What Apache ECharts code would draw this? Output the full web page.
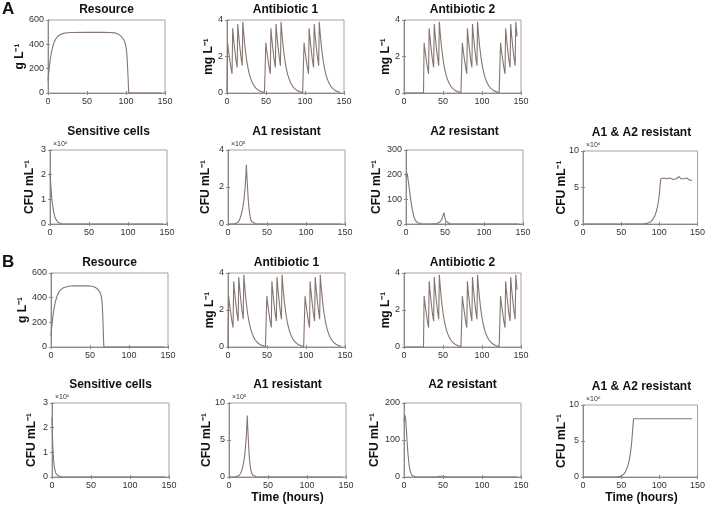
<!DOCTYPE html>
<html><head><meta charset="utf-8">
<script src="https://cdn.jsdelivr.net/npm/echarts@6/dist/echarts.min.js"></script>
<style>html,body{margin:0;padding:0;background:#fff}#c{width:708px;height:507px}</style>
</head><body><div id="c"></div>
<script>
// ---------- DATA (time in hours, values in axis units) ----------
const xTicks = [0, 50, 100, 150];

const resourceA = [[0,100],[1,170],[2,230],[3,280],[4,320],[6,380],[8,420],[10,445],[13,468],[16,481],[20,490],[25,495],[30,497],[50,498],[70,498],[80,497],[85,494],[88,489],[91,480],[94,465],[97,440],[99,410],[100.5,360],[101.5,280],[102.5,150],[103.2,40],[103.5,0],[145,0]];
const resourceB = [[0,90],[1,165],[2,225],[3,275],[4,315],[6,375],[8,418],[10,444],[13,467],[16,480],[20,489],[25,494],[30,496],[40,497],[48,496],[52,493],[55,488],[58,478],[61,460],[63,440],[64.5,410],[65.5,360],[66.3,270],[67,140],[67.5,30],[67.8,0],[145,0]];

const antibiotic1 = [[0,0],[0.8,2.75],[2,2.3],[3.5,1.85],[5,1.4],[6.5,1.05],[7.3,3.55],[8.5,2.95],[10,2.35],[11.5,1.8],[13,1.4],[13.8,3.78],[15,3.15],[16.5,2.5],[18,1.95],[19.5,1.5],[20.3,3.9],[21.5,3.25],[23,2.55],[25,1.85],[27,1.35],[29,0.98],[31,0.72],[33,0.52],[35,0.38],[37,0.27],[39,0.19],[41,0.13],[43,0.09],[45,0.06],[48,0.03],
  [49,0.02],[49.8,2.75],[51,2.3],[52.5,1.85],[54,1.4],[55.5,1.05],[56.3,3.55],[57.5,2.95],[59,2.35],[60.5,1.8],[62,1.4],[62.8,3.78],[64,3.15],[65.5,2.5],[67,1.95],[68.5,1.5],[69.3,3.9],[70.5,3.25],[72,2.55],[74,1.85],[76,1.35],[78,0.98],[80,0.72],[82,0.52],[84,0.38],[86,0.27],[88,0.19],[90,0.13],[92,0.09],[94,0.06],[97,0.03],
  [98,0.02],[98.8,2.75],[100,2.3],[101.5,1.85],[103,1.4],[104.5,1.05],[105.3,3.55],[106.5,2.95],[108,2.35],[109.5,1.8],[111,1.4],[111.8,3.78],[113,3.15],[114.5,2.5],[116,1.95],[117.5,1.5],[118.3,3.9],[119.5,3.25],[121,2.55],[123,1.85],[125,1.35],[127,0.98],[129,0.72],[131,0.52],[133,0.38],[135,0.27],[137,0.19],[139,0.13],[141,0.09],[143,0.06],[145,0.04]];

const antibiotic2 = [[0,0],[25,0],[25.8,2.75],[27,2.3],[28.5,1.85],[30,1.4],[31.5,1.05],[32.3,3.55],[33.5,2.95],[35,2.35],[36.5,1.8],[38,1.4],[38.8,3.78],[40,3.15],[41.5,2.5],[43,1.95],[44.5,1.5],[45.3,3.9],[46.5,3.25],[48,2.55],[50,1.85],[52,1.35],[54,0.98],[56,0.72],[58,0.52],[60,0.38],[62,0.27],[64,0.19],[66,0.13],[68,0.09],[70,0.06],[73,0.03],
  [74,0.02],[74.8,2.75],[76,2.3],[77.5,1.85],[79,1.4],[80.5,1.05],[81.3,3.55],[82.5,2.95],[84,2.35],[85.5,1.8],[87,1.4],[87.8,3.78],[89,3.15],[90.5,2.5],[92,1.95],[93.5,1.5],[94.3,3.9],[95.5,3.25],[97,2.55],[99,1.85],[101,1.35],[103,0.98],[105,0.72],[107,0.52],[109,0.38],[111,0.27],[113,0.19],[115,0.13],[117,0.09],[119,0.06],[122,0.03],
  [123,0.02],[123.8,2.75],[125,2.3],[126.5,1.85],[128,1.4],[129.5,1.05],[130.3,3.55],[131.5,2.95],[133,2.35],[134.5,1.8],[136,1.4],[136.8,3.78],[138,3.15],[139.5,2.5],[141,1.95],[142.5,1.5],[143.3,3.9],[144.3,3.4],[145,3.1]];

const sensitiveA = [[0,2.1],[1,1.6],[2,1.15],[3,0.85],[4,0.62],[5,0.45],[6,0.32],[7,0.22],[8,0.15],[10,0.07],[12,0.03],[15,0.01],[20,0],[145,0]];
const sensitiveB = [[0,2.4],[0.5,1.8],[1,1.25],[2,0.7],[3,0.4],[4,0.25],[5,0.15],[6,0.1],[8,0.05],[10,0.02],[13,0],[145,0]];

const a1resA = [[0,0],[8,0],[10,0.02],[13,0.1],[15,0.25],[17,0.5],[19,0.9],[20.5,1.3],[22,2.0],[23,2.7],[23.6,3.2],[24.2,2.6],[25,2.0],[26,1.3],[27,0.8],[28.5,0.35],[30,0.15],[32,0.05],[35,0.01],[40,0],[145,0]];
const a1resB = [[0,0],[8,0],[10,0.05],[13,0.2],[15,0.5],[17,1.1],[19,2.1],[20.5,3.3],[22,5.2],[22.8,6.8],[23.4,8.3],[24,6.8],[24.8,5.0],[25.8,3.0],[27,1.6],[28.5,0.7],[30,0.3],[32,0.1],[35,0.02],[40,0],[145,0]];

const a2resA = [[0,190],[1,208],[2,195],[4,150],[6,100],[8,60],[10,30],[12,15],[15,5],[20,1],[30,0],[40,2],[44,10],[46,20],[47.5,35],[48.7,46],[49.5,30],[51,12],[53,4],[56,1],[60,0],[145,0]];
const a2resB = [[0,150],[1,168],[2,160],[3,130],[4,95],[5,65],[6,42],[7,26],[8,15],[10,5],[12,1.5],[15,0],[42,0],[46,2],[48,3.5],[50,2],[53,0.5],[58,0],[145,0]];

const dualA = [[0,0],[70,0],[80,0.03],[85,0.12],[89,0.35],[92,0.7],[94,1.1],[96,1.7],[98,2.6],[99.5,3.6],[100.5,4.6],[101.3,5.6],[102,6.2],[104,6.2],[106,6.3],[108,6.1],[110,6.2],[112,6.0],[114,6.3],[116,6.2],[118,6.1],[120,6.3],[122,6.2],[124,6.4],[126,6.5],[128,6.2],[130,6.4],[132,6.2],[134,6.1],[136,6.3],[138,6.1],[140,6.0],[142,6.1],[143,6.0]];
const dualB = [[0,0],[42,0],[48,0.05],[52,0.25],[55,0.6],[58,1.3],[60,2.0],[62,3.2],[63.5,4.5],[64.7,6.0],[65.5,7.2],[66.2,8.1],[80,8.1],[100,8.1],[120,8.1],[143,8.1]];

// ---------- PANELS ----------
const panels = [
  {title:'Resource',      yname:'g L\u207B\u00B9',   data:resourceA,  left:48,  top:20,  h:73, ymax:600, yint:200, exp:null, ygap:28},
  {title:'Antibiotic 1',  yname:'mg L\u207B\u00B9',  data:antibiotic1,left:227, top:20,  h:73, ymax:4,   yint:2,   exp:null, ygap:18},
  {title:'Antibiotic 2',  yname:'mg L\u207B\u00B9',  data:antibiotic2,left:404, top:20,  h:73, ymax:4,   yint:2,   exp:null, ygap:18},
  {title:'Sensitive cells', yname:'CFU mL\u207B\u00B9', data:sensitiveA, left:50, top:150, h:74, ymax:3, yint:1, exp:'\u00D710\u2076', ygap:20},
  {title:'A1 resistant',  yname:'CFU mL\u207B\u00B9', data:a1resA,   left:228, top:150, h:74, ymax:4,   yint:2,   exp:'\u00D710\u2075', ygap:22},
  {title:'A2 resistant',  yname:'CFU mL\u207B\u00B9', data:a2resA,   left:406, top:150, h:74, ymax:300, yint:100, exp:null, ygap:29},
  {title:'A1 & A2 resistant', yname:'CFU mL\u207B\u00B9', data:dualA, left:583, top:151, h:73, ymax:10, yint:5, exp:'\u00D710\u2076', ygap:21},
  {title:'Resource',      yname:'g L\u207B\u00B9',   data:resourceB,  left:51,  top:273, h:74, ymax:600, yint:200, exp:null, ygap:28},
  {title:'Antibiotic 1',  yname:'mg L\u207B\u00B9',  data:antibiotic1,left:228, top:273, h:74, ymax:4,   yint:2,   exp:null, ygap:18},
  {title:'Antibiotic 2',  yname:'mg L\u207B\u00B9',  data:antibiotic2,left:404, top:273, h:74, ymax:4,   yint:2,   exp:null, ygap:18},
  {title:'Sensitive cells', yname:'CFU mL\u207B\u00B9', data:sensitiveB, left:52, top:403, h:74, ymax:3, yint:1, exp:'\u00D710\u2076', ygap:20},
  {title:'A1 resistant',  yname:'CFU mL\u207B\u00B9', data:a1resB,   left:229, top:403, h:74, ymax:10,  yint:5,   exp:'\u00D710\u2075', ygap:22, xname:true},
  {title:'A2 resistant',  yname:'CFU mL\u207B\u00B9', data:a2resB,   left:404, top:403, h:74, ymax:200, yint:100, exp:null, ygap:29},
  {title:'A1 & A2 resistant', yname:'CFU mL\u207B\u00B9', data:dualB, left:583, top:405, h:72, ymax:10, yint:5, exp:'\u00D710\u2076', ygap:21, xname:true}
];

const W = 117;
const FONT = '"Liberation Sans", Arial, sans-serif';
const axisColor = '#8a8a8a';
const lineColor = '#857571';

const grid = [], xAxis = [], yAxis = [], series = [], graphic = [];
panels.forEach((p, i) => {
  grid.push({left:p.left, top:p.top, width:W, height:p.h, show:true, borderColor:'#ab9f9d', borderWidth:1, backgroundColor:'#fff'});
});
panels.forEach((p, i) => {
  xAxis.push({type:'value', gridIndex:i, min:0, max:150, interval:50, position:'bottom',
    axisLine:{show:true, lineStyle:{color:axisColor, width:1}},
    axisTick:{show:true, inside:true, length:2, lineStyle:{color:axisColor}},
    axisLabel:{fontSize:9, color:'#333', margin:4, fontFamily:FONT, showMaxLabel:true, showMinLabel:true},
    splitLine:{show:false}});
  yAxis.push({type:'value', gridIndex:i, min:0, max:p.ymax, interval:p.yint, position:'left',
    axisLine:{show:true, lineStyle:{color:axisColor, width:1}},
    axisTick:{show:true, inside:true, length:2, lineStyle:{color:axisColor}},
    axisLabel:{fontSize:9, color:'#333', margin:4, fontFamily:FONT},
    splitLine:{show:false}});
});
panels.forEach((p, i) => {
  xAxis.push({type:'value', gridIndex:i, min:0, max:150, interval:50, position:'top',
    axisLine:{show:false}, axisTick:{show:true, inside:true, length:2, lineStyle:{color:axisColor}},
    axisLabel:{show:false}, splitLine:{show:false}});
  yAxis.push({type:'value', gridIndex:i, min:0, max:p.ymax, interval:p.yint, position:'right',
    axisLine:{show:false}, axisTick:{show:true, inside:true, length:2, lineStyle:{color:axisColor}},
    axisLabel:{show:false}, splitLine:{show:false}});
});
panels.forEach((p, i) => {
  series.push({type:'line', xAxisIndex:i, yAxisIndex:i, data:p.data, showSymbol:false, symbol:'none',
    lineStyle:{color:lineColor, width:1.1}, clip:true, silent:true});
  const titleY = p.top >= 400 ? p.top - 18 : (p.top >= 270 ? p.top - 10 : (p.top >= 140 ? p.top - 18 : p.top - 10));
  graphic.push({type:'text', x:p.left + W/2, y:titleY, style:{text:p.title, font:'bold 12px ' + FONT, fill:'#111', textAlign:'center', textVerticalAlign:'middle'}});
  graphic.push({type:'text', x:p.left - p.ygap, y:p.top + p.h/2, rotation:Math.PI/2,
    style:{text:p.yname, font:'bold 12px ' + FONT, fill:'#111', textAlign:'center', textVerticalAlign:'middle'}});
  if (p.exp) {
    graphic.push({type:'text', x:p.left + 3, y:p.top - 6, style:{text:p.exp, font:'7px ' + FONT, fill:'#333', textAlign:'left', textVerticalAlign:'middle'}});
  }
  if (p.xname) {
    graphic.push({type:'text', x:p.left + W/2, y:p.top + p.h + 21, style:{text:'Time (hours)', font:'bold 12px ' + FONT, fill:'#111', textAlign:'center', textVerticalAlign:'middle'}});
  }
});
graphic.push({type:'text', x:2, y:9, style:{text:'A', font:'bold 17px ' + FONT, fill:'#111', textAlign:'left', textVerticalAlign:'middle'}});
graphic.push({type:'text', x:2, y:262, style:{text:'B', font:'bold 17px ' + FONT, fill:'#111', textAlign:'left', textVerticalAlign:'middle'}});

const chart = echarts.init(document.getElementById('c'), null, {renderer:'canvas'});
chart.setOption({animation:false, backgroundColor:'#fff', grid, xAxis, yAxis, series, graphic});
</script>
</body></html>
